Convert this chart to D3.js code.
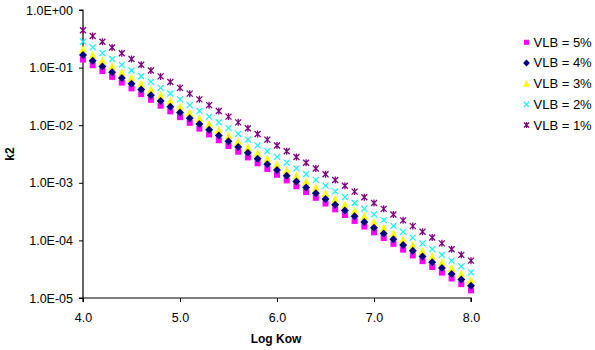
<!DOCTYPE html>
<html>
<head>
<meta charset="utf-8">
<script src="https://cdn.jsdelivr.net/npm/d3@7/dist/d3.min.js"></script>
<style>
  html, body { margin: 0; padding: 0; background: #fff; }
  svg { display: block; font-family: Arial, "Liberation Sans", sans-serif; }
</style>
</head>
<body>
<svg id="chart" width="595" height="350"></svg>
<script>
// Log Kow values (x) shared by all series
const logKow = [
  4.0,4.1,4.2,4.3,4.4,4.5,4.6,4.7,4.8,4.9,
  5.0,5.1,5.2,5.3,5.4,5.5,5.6,5.7,5.8,5.9,
  6.0,6.1,6.2,6.3,6.4,6.5,6.6,6.7,6.8,6.9,
  7.0,7.1,7.2,7.3,7.4,7.5,7.6,7.7,7.8,7.9,
  8.0
];

// k2 for each lipid fraction (VLB)
const vlb5 = [
  1.38e-1,1.10e-1,8.71e-2,6.91e-2,5.49e-2,4.36e-2,3.46e-2,2.76e-2,2.18e-2,1.74e-2,
  1.38e-2,1.10e-2,8.71e-3,6.91e-3,5.49e-3,4.36e-3,3.46e-3,2.76e-3,2.18e-3,1.74e-3,
  1.38e-3,1.10e-3,8.71e-4,6.91e-4,5.49e-4,4.36e-4,3.46e-4,2.76e-4,2.18e-4,1.74e-4,
  1.38e-4,1.10e-4,8.71e-5,6.91e-5,5.49e-5,4.36e-5,3.46e-5,2.76e-5,2.18e-5,1.74e-5,
  1.36e-5
];
const vlb4 = [
  1.66e-1,1.32e-1,1.05e-1,8.32e-2,6.61e-2,5.25e-2,4.17e-2,3.32e-2,2.62e-2,2.09e-2,
  1.66e-2,1.32e-2,1.05e-2,8.32e-3,6.61e-3,5.25e-3,4.17e-3,3.32e-3,2.62e-3,2.09e-3,
  1.66e-3,1.32e-3,1.05e-3,8.32e-4,6.61e-4,5.25e-4,4.17e-4,3.32e-4,2.62e-4,2.09e-4,
  1.66e-4,1.32e-4,1.05e-4,8.32e-5,6.61e-5,5.25e-5,4.17e-5,3.32e-5,2.62e-5,2.09e-5,
  1.63e-5
];
const vlb3 = [
  2.06e-1,1.64e-1,1.30e-1,1.03e-1,8.20e-2,6.51e-2,5.17e-2,4.12e-2,3.25e-2,2.60e-2,
  2.06e-2,1.64e-2,1.30e-2,1.03e-2,8.20e-3,6.51e-3,5.17e-3,4.12e-3,3.25e-3,2.60e-3,
  2.06e-3,1.64e-3,1.30e-3,1.03e-3,8.20e-4,6.51e-4,5.17e-4,4.12e-4,3.25e-4,2.60e-4,
  2.06e-4,1.64e-4,1.30e-4,1.03e-4,8.20e-5,6.51e-5,5.17e-5,4.12e-5,3.25e-5,2.60e-5,
  2.02e-5
];
const vlb2 = [
  2.82e-1,2.24e-1,1.78e-1,1.41e-1,1.12e-1,8.91e-2,7.08e-2,5.63e-2,4.46e-2,3.55e-2,
  2.82e-2,2.24e-2,1.78e-2,1.41e-2,1.12e-2,8.91e-3,7.08e-3,5.63e-3,4.46e-3,3.55e-3,
  2.82e-3,2.24e-3,1.78e-3,1.41e-3,1.12e-3,8.91e-4,7.08e-4,5.63e-4,4.46e-4,3.55e-4,
  2.82e-4,2.24e-4,1.78e-4,1.41e-4,1.12e-4,8.91e-5,7.08e-5,5.63e-5,4.46e-5,3.55e-5,
  2.79e-5
];
const vlb1 = [
  4.45e-1,3.53e-1,2.81e-1,2.23e-1,1.77e-1,1.41e-1,1.12e-1,8.88e-2,7.03e-2,5.61e-2,
  4.45e-2,3.53e-2,2.81e-2,2.23e-2,1.77e-2,1.41e-2,1.12e-2,8.88e-3,7.03e-3,5.61e-3,
  4.45e-3,3.53e-3,2.81e-3,2.23e-3,1.77e-3,1.41e-3,1.12e-3,8.88e-4,7.03e-4,5.61e-4,
  4.45e-4,3.53e-4,2.81e-4,2.23e-4,1.77e-4,1.41e-4,1.12e-4,8.88e-5,7.03e-5,5.61e-5,
  4.45e-5
];

const seriesNames = ["VLB = 5%", "VLB = 4%", "VLB = 3%", "VLB = 2%", "VLB = 1%"];
const xTicks = [4, 5, 6, 7, 8];
const xTickLabels = ["4.0", "5.0", "6.0", "7.0", "8.0"];
const yTicks = [1e0, 1e-1, 1e-2, 1e-3, 1e-4, 1e-5];
const yTickLabels = ["1.0E+00", "1.0E-01", "1.0E-02", "1.0E-03", "1.0E-04", "1.0E-05"];

const series = [
  { name: seriesNames[0], values: vlb5, color: "#FF00FF", shape: "square" },
  { name: seriesNames[1], values: vlb4, color: "#000080", shape: "diamond" },
  { name: seriesNames[2], values: vlb3, color: "#FFFF00", shape: "triangle" },
  { name: seriesNames[3], values: vlb2, color: "#00FFFF", shape: "cross" },
  { name: seriesNames[4], values: vlb1, color: "#800080", shape: "star" }
];

const svg = d3.select("#chart");
const plot = { left: 83, right: 471, top: 10, bottom: 298 };

const x = d3.scaleLinear().domain([4, 8]).range([plot.left, plot.right]);
const y = d3.scaleLog().domain([1e-5, 1]).range([plot.bottom, plot.top]);

// Marker painter
function drawMarker(g, shape, color, size) {
  const s = size || 1;
  if (shape === "square") {
    g.append("rect").attr("x", -3 * s).attr("y", -3 * s).attr("width", 6 * s).attr("height", 6 * s)
      .attr("fill", color);
  } else if (shape === "diamond") {
    g.append("path").attr("d", `M0,${-4 * s}L${4 * s},0L0,${4 * s}L${-4 * s},0Z`).attr("fill", color);
  } else if (shape === "triangle") {
    g.append("path").attr("d", `M0,${-4.5 * s}L${3.8 * s},${3.5 * s}L${-3.8 * s},${3.5 * s}Z`).attr("fill", color);
  } else if (shape === "cross") {
    g.append("path").attr("d", `M${-3 * s},${-3 * s}L${3 * s},${3 * s}M${3 * s},${-3 * s}L${-3 * s},${3 * s}`)
      .attr("stroke", color).attr("stroke-width", 1.1).attr("fill", "none");
  } else if (shape === "star") {
    g.append("path").attr("d", `M${-3 * s},${-3 * s}L${3 * s},${3 * s}M${3 * s},${-3 * s}L${-3 * s},${3 * s}M0,${-3.5 * s}L0,${3.5 * s}`)
      .attr("stroke", color).attr("stroke-width", 1.3).attr("fill", "none");
  }
}

// Axes
const yAxis = d3.axisLeft(y).tickValues(yTicks).tickSize(4).tickPadding(6)
  .tickFormat((d, i) => yTickLabels[i]);
const gy = svg.append("g").attr("transform", `translate(${plot.left},0)`).call(yAxis);

const xAxis = d3.axisBottom(x).tickValues(xTicks).tickSize(4).tickPadding(11)
  .tickFormat((d, i) => xTickLabels[i]);
const gx = svg.append("g").attr("transform", `translate(0,${plot.bottom})`).call(xAxis);

[gx, gy].forEach(g => {
  g.select(".domain").attr("stroke", "#000").attr("stroke-width", 1.2);
  g.selectAll(".tick line").attr("stroke", "#000").attr("stroke-width", 1);
  g.selectAll(".tick text").attr("fill", "#000").attr("font-size", 12.5)
    .attr("font-family", "Arial, 'Liberation Sans', sans-serif");
});
gy.select(".domain").attr("d", `M-4,${plot.top}H0V${plot.bottom}H-4`);
gx.select(".domain").attr("d", `M${plot.left},4V0H${plot.right}V4`);

// Data points: drawn so the diamonds sit over the squares and triangles
const drawOrder = [4, 3, 2, 0, 1];
drawOrder.forEach(si => {
  const s = series[si];
  const g = svg.append("g");
  logKow.forEach((xv, i) => {
    const m = g.append("g").attr("transform", `translate(${x(xv)},${y(s.values[i])})`);
    drawMarker(m, s.shape, s.color);
  });
});

// Axis titles
svg.append("text").attr("x", 276).attr("y", 343).attr("text-anchor", "middle")
  .attr("font-size", 12).attr("font-weight", "bold").text("Log Kow");
svg.append("text").attr("transform", "translate(14,154) rotate(-90)").attr("text-anchor", "middle")
  .attr("font-size", 12).attr("font-weight", "bold").text("k2");

// Legend
const legend = svg.append("g");
const legendY = d3.scaleLinear().domain([0, 4]).range([42.3, 125]);
series.forEach((s, i) => {
  const row = legend.append("g").attr("transform", `translate(526.5,${legendY(i)})`);
  drawMarker(row.append("g"), s.shape, s.color, 0.85);
  row.append("text").attr("x", 7).attr("y", 4.5).attr("font-size", 13).attr("fill", "#000").text(s.name);
});
</script>
</body>
</html>
